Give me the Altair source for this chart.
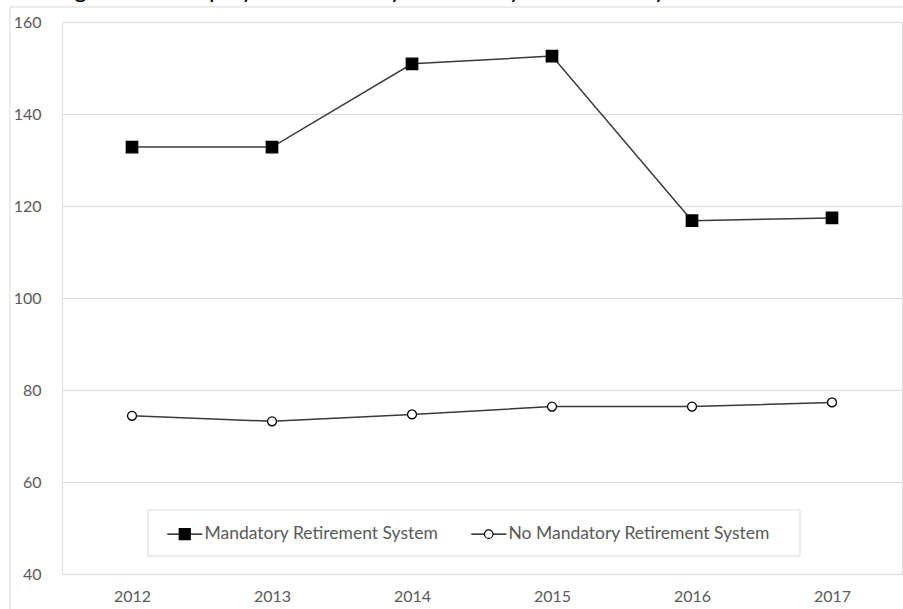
import altair as alt
import pandas as pd

# ---- data ----
years = ["2012", "2013", "2014", "2015", "2016", "2017"]
series_names = ["Mandatory Retirement System", "No Mandatory Retirement System"]
mandatory = [132.8, 132.8, 150.9, 152.6, 116.8, 117.4]
no_mandatory = [74.4, 73.2, 74.7, 76.4, 76.4, 77.3]
y_ticks = [40, 60, 80, 100, 120, 140, 160]
title_text = "Figure 3-1. Employment trend by mandatory retirement system"

rows = []
for name, vals in zip(series_names, [mandatory, no_mandatory]):
    for yr, v in zip(years, vals):
        rows.append({"year": yr, "series": name, "value": v})
df = pd.DataFrame(rows)

FONT = "Lato"
LABEL_COLOR = "#595959"
GRID_COLOR = "#d9d9d9"
LINE_COLOR = "#3a3a3a"

W, H = 840, 552

x_enc = alt.X(
    "year:O",
    scale=alt.Scale(type="point", padding=0.5, domain=years),
    axis=alt.Axis(
        title=None, labelAngle=0, ticks=False, domain=False, grid=False,
        labelPadding=14, labelFontSize=16, labelColor=LABEL_COLOR, labelFont=FONT,
    ),
)
y_enc = alt.Y(
    "value:Q",
    scale=alt.Scale(domain=[40, 160], nice=False, zero=False),
    axis=alt.Axis(
        title=None, values=y_ticks, ticks=False, domain=False,
        gridColor=GRID_COLOR, gridWidth=1,
        labelPadding=21, labelFontSize=16, labelColor=LABEL_COLOR, labelFont=FONT,
    ),
)

one_row = alt.Data(values=[{}])

# outer chart frame
frame = alt.Chart(one_row).mark_rect(fillOpacity=0, stroke=GRID_COLOR, strokeWidth=1).encode(
    x=alt.value(-52), x2=alt.value(846), y=alt.value(-15), y2=alt.value(592)
)

# caption above the frame
caption = alt.Chart(one_row).mark_text(
    align="left", baseline="alphabetic", font=FONT, fontSize=24, color="black"
).encode(x=alt.value(-7), y=alt.value(-24), text=alt.value(title_text))

lines = alt.Chart(df).mark_line(color=LINE_COLOR, strokeWidth=1.5).encode(
    x=x_enc, y=y_enc, detail="series:N"
)

points = alt.Chart(df).mark_point(filled=True, stroke="black", strokeWidth=1.3, opacity=1).encode(
    x=x_enc,
    y=y_enc,
    shape=alt.Shape("series:N", scale=alt.Scale(domain=series_names, range=["square", "circle"]), legend=None),
    fill=alt.Fill("series:N", scale=alt.Scale(domain=series_names, range=["black", "white"]), legend=None),
    size=alt.Size("series:N", scale=alt.Scale(domain=series_names, range=[130, 80]), legend=None),
)

# legend box
legend_box = alt.Chart(one_row).mark_rect(fill="white", stroke=GRID_COLOR, strokeWidth=1).encode(
    x=alt.value(86), x2=alt.value(738), y=alt.value(488), y2=alt.value(534)
)

# legend symbols: line stub with the series marker in the middle
sq_path = "M-3.5,0H-1.1M1.1,0H3.5M-1.1,-1.1H1.1V1.1H-1.1Z"
circ_path = "M-3.5,0H-0.85M0.85,0H3.5M0.85,0A0.85,0.85,0,1,1,-0.85,0A0.85,0.85,0,1,1,0.85,0Z"

legend_props = dict(
    title=None, orient="none", legendX=114, legendY=503, direction="horizontal", columns=2,
    symbolSize=100, symbolStrokeColor="black", symbolStrokeWidth=1.2,
    labelFontSize=17.5, labelColor=LABEL_COLOR, labelFont=FONT, labelOffset=11, labelLimit=500,
    columnPadding=29, padding=0, strokeColor="transparent",
)

legend_layer = alt.Chart(df).transform_filter("datum.value < 0").mark_point(
    filled=True, stroke="black", strokeWidth=1.2, opacity=1
).encode(
    x=x_enc,
    y=y_enc,
    shape=alt.Shape("series:N", scale=alt.Scale(domain=series_names, range=[sq_path, circ_path]),
                    legend=alt.Legend(**legend_props)),
    fill=alt.Fill("series:N", scale=alt.Scale(domain=series_names, range=["black", "white"]),
                  legend=alt.Legend(**legend_props)),
    stroke=alt.Stroke("series:N", scale=alt.Scale(domain=series_names, range=["black", "black"]),
                      legend=alt.Legend(**legend_props)),
)

chart = alt.layer(frame, caption, lines, points, legend_box, legend_layer).resolve_scale(
    shape="independent", fill="independent", stroke="independent"
).properties(
    width=W, height=H,
    autosize=alt.AutoSizeParams(type="none"),
    padding={"left": 62, "top": 22, "right": 1, "bottom": 35},
).configure_view(stroke=None).configure(background="white")

chart.save("out.html", embed_options={"renderer": "svg", "actions": False})
